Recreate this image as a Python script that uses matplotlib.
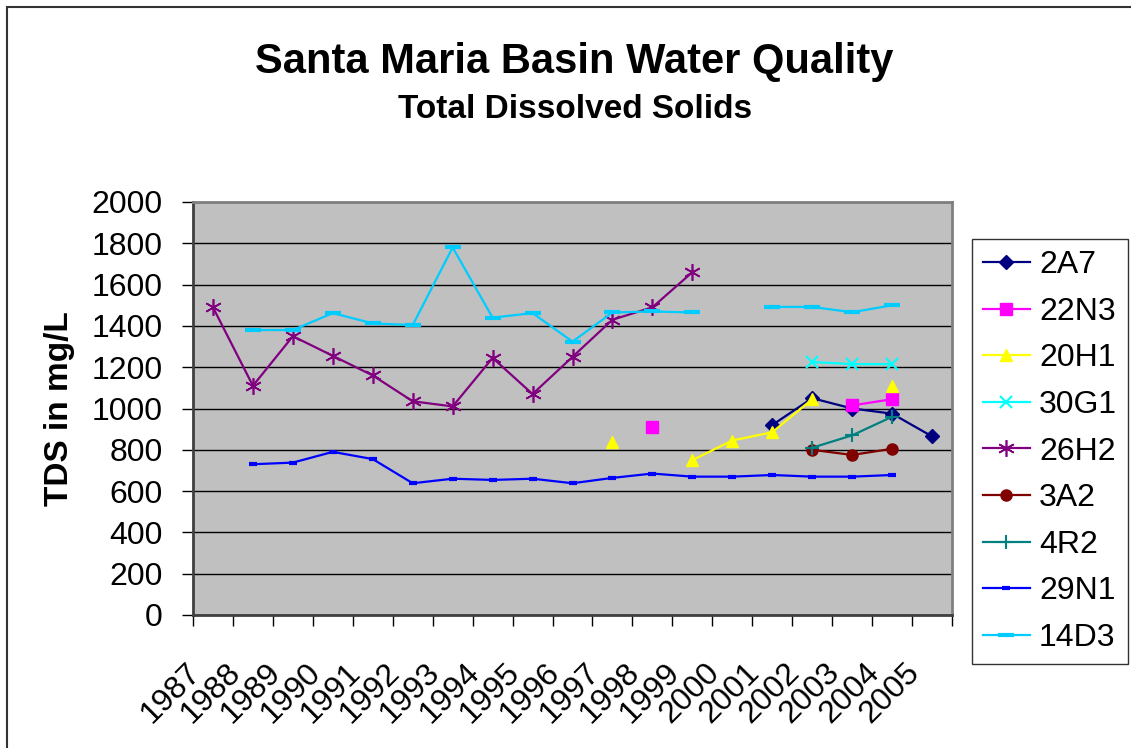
import numpy as np
import matplotlib
matplotlib.use("Agg")
import matplotlib.pyplot as plt
from matplotlib.patches import Rectangle
from matplotlib.transforms import ScaledTranslation

nan = np.nan
years = [str(y) for y in range(1987, 2006)]

# TDS values (mg/L) per well, one value per year, nan = no sample
s_2A7  = [nan]*14 + [920, 1050, 1000, 975, 865]
s_22N3 = [nan]*11 + [910] + [nan]*4 + [1015, 1045, nan]
s_20H1 = [nan]*10 + [840, nan, 750, 845, 885, 1045, nan, 1110, nan]
s_30G1 = [nan]*15 + [1225, 1215, 1215, nan]
s_26H2 = [1490, 1110, 1350, 1255, 1160, 1035, 1010, 1245, 1070, 1250, 1430, 1490, 1660] + [nan]*6
s_3A2  = [nan]*15 + [800, 775, 805, nan]
s_4R2  = [nan]*15 + [810, 870, 960, nan]
s_29N1 = [nan, 730, 738, 790, 755, 638, 660, 654, 660, 638, 664, 685, 670, 670, 678, 670, 670, 678, nan]
s_14D3 = [nan, 1380, 1380, 1462, 1412, 1404, 1780, 1440, 1462, 1324, 1465, 1470, 1465, nan,
          1492, 1492, 1466, 1500, nan]

names = ["2A7", "22N3", "20H1", "30G1", "26H2", "3A2", "4R2", "29N1", "14D3"]
series = [s_2A7, s_22N3, s_20H1, s_30G1, s_26H2, s_3A2, s_4R2, s_29N1, s_14D3]
colors = ["#000080", "#FF00FF", "#FFFF00", "#00FFFF", "#800080", "#800000", "#008080", "#0000FF", "#00CCFF"]
markers = ["D", "s", "^", "x", (6, 2, 0), "o", "+", "_", "_"]
msizes = [7, 8, 9, 9, 12, 8, 10, 6, 11]
mews = [1, 1, 1, 1.5, 1.2, 1, 1.5, 3, 3]

plt.rcParams['font.family'] = ['Liberation Sans', 'DejaVu Sans']

fig = plt.figure(figsize=(11.31, 7.48), dpi=100)
ax = fig.add_axes([193/1131, 1-615/748, (952-193)/1131, (615-202)/748])
ax.set_facecolor("#C0C0C0")

x = np.arange(len(years))
for name, s, c, m, ms, mw in zip(names, series, colors, markers, msizes, mews):
    ax.plot(x, s, color=c, lw=1.6, marker=m, markersize=ms, markeredgewidth=mw,
            markerfacecolor=c, markeredgecolor=c, label=name)

ax.set_xlim(-0.5, len(years) - 0.5)
ax.set_ylim(0, 2000)
ax.set_yticks(range(0, 2001, 200))
ax.tick_params(axis='y', labelsize=23, length=8, width=1, direction='out', pad=14)
ax.grid(axis='y', color='black', lw=1)
ax.set_axisbelow(True)

# ticks at category boundaries, labels at category centres
ax.set_xticks(np.arange(-0.5, len(years), 1))
ax.set_xticklabels([])
ax.set_xticks(x, minor=True)
ax.set_xticklabels(years, minor=True, rotation=45, ha='right', va='center',
                   rotation_mode='anchor', fontsize=23)
ax.tick_params(axis='x', which='major', length=8, width=1, direction='out')
ax.tick_params(axis='x', which='minor', length=0, pad=38)
for lab in ax.get_xticklabels(minor=True):
    lab.set_transform(lab.get_transform() + ScaledTranslation(-17/100, 0, fig.dpi_scale_trans))

for side in ['top', 'right']:
    ax.spines[side].set_color('#808080')
    ax.spines[side].set_linewidth(2)
for side in ['left', 'bottom']:
    ax.spines[side].set_color('#404040')
    ax.spines[side].set_linewidth(2)

ax.set_ylabel("TDS in mg/L", fontsize=24, fontweight='bold', labelpad=12)

fig.text(574/1131, 1-62/748, "Santa Maria Basin Water Quality", ha='center', va='center',
         fontsize=30, fontweight='bold')
fig.text(575/1131, 1-109/748, "Total Dissolved Solids", ha='center', va='center',
         fontsize=24, fontweight='bold')

leg = fig.legend(loc='upper left', bbox_to_anchor=(972/1131, 1-239/748), fontsize=23,
                 frameon=True, fancybox=False, edgecolor='black', borderaxespad=0,
                 handlelength=1.45, handletextpad=0.3, labelspacing=0.52, borderpad=0.35)
leg.get_frame().set_linewidth(1)

fig.patches.append(Rectangle((7/1131, -0.1), 1.2, 1-7/748+0.1, transform=fig.transFigure,
                             fill=False, edgecolor='#333333', lw=1.5))

fig.savefig("out.png", dpi=100)
